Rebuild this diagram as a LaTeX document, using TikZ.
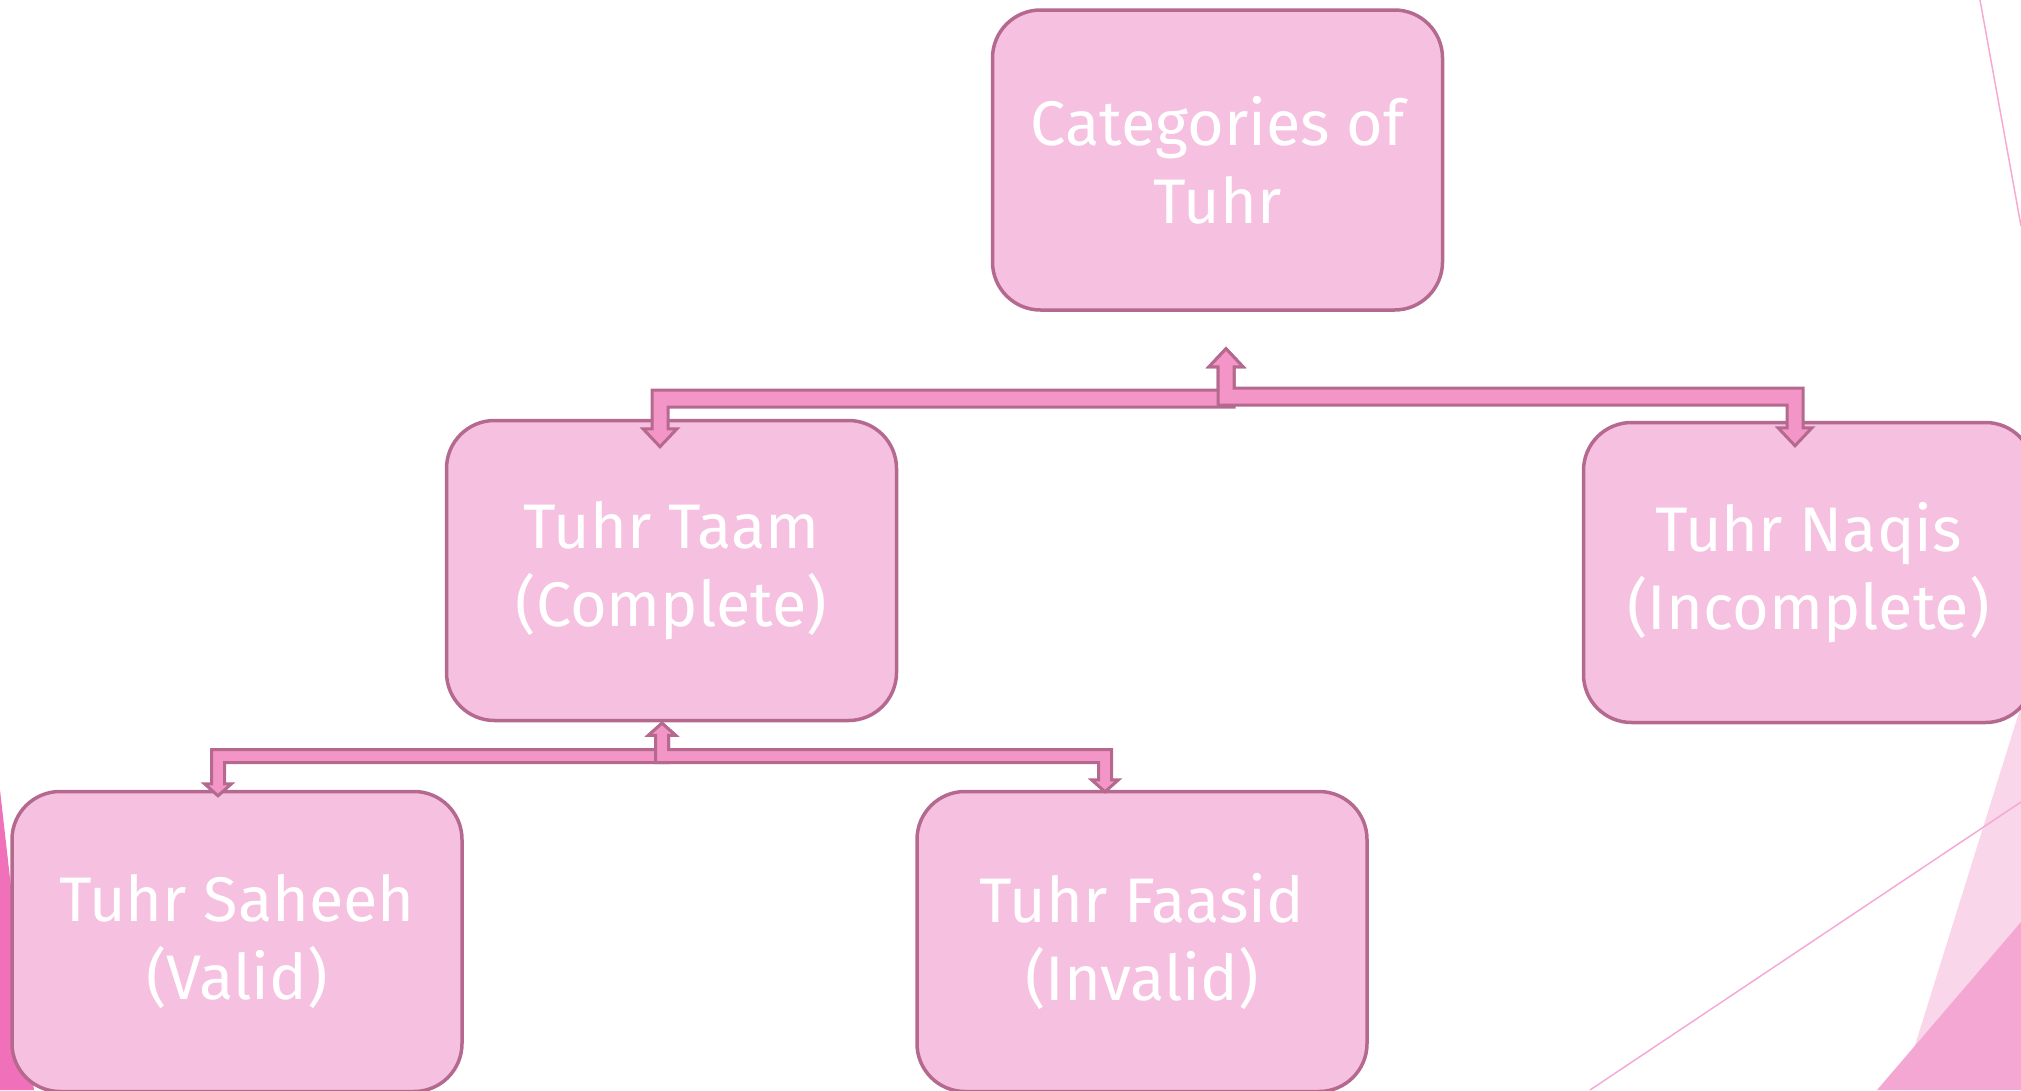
\documentclass[tikz,border=0pt]{standalone}
\usepackage{fontspec}
\setmainfont{Fira Sans}
\usetikzlibrary{calc}
\definecolor{boxfill}{HTML}{F6C0E0}
\definecolor{boxline}{HTML}{B5698F}
\definecolor{arrfill}{HTML}{F395C7}
\definecolor{bglight}{HTML}{F9D6EA}
\definecolor{bgdark}{HTML}{F4A7D3}
\definecolor{bgline}{HTML}{F5AAD4}
\definecolor{bgleft}{HTML}{F070BA}
% #1 start tip (pointing up), #2 end tip (pointing down), #3 bar coordinate, #4 signed bar half thickness
\newcommand{\elbowconn}[4]{%
  \filldraw[conn] (#1) -- ($(#1)+(\hw,\hl)$) -- ($(#1)+(\sw,\hl)$) -- ($(#1|-#3)+(\sw,#4)$)
    -- ($(#2|-#3)+(\sw,#4)$) -- ($(#2)+(\sw,-\hl)$) -- ($(#2)+(\hw,-\hl)$) -- (#2)
    -- ($(#2)+(-\hw,-\hl)$) -- ($(#2)+(-\sw,-\hl)$) -- ($(#2|-#3)+(-\sw,-#4)$)
    -- ($(#1|-#3)+(-\sw,-#4)$) -- ($(#1)+(-\sw,\hl)$) -- ($(#1)+(-\hw,\hl)$) -- cycle;}
\begin{document}
\begin{tikzpicture}[x=1pt,y=-1pt,
  catbox/.style={draw=boxline, fill=boxfill, line width=3.5pt, rounded corners=48pt,
    minimum width=450pt, minimum height=300pt, inner sep=0pt, align=center,
    text=white, font=\fontsize{63}{78}\selectfont},
  conn/.style={fill=arrfill, draw=boxline, line width=3pt, line join=miter}]
\useasboundingbox (0,0) rectangle (2021,1090);
\clip (0,0) rectangle (2021,1090);
% background decoration
\fill[bgleft] (0,790) -- (34,1090) -- (0,1090) -- cycle;
\fill[bglight] (2021,706) -- (1901,1090) -- (2021,1090) -- cycle;
\fill[bgdark] (2021,922) -- (1877,1090) -- (2021,1090) -- cycle;
\draw[bgline, line width=1.5pt] (1590,1090) -- (2021,802);
\draw[bgline, line width=1.5pt] (1980,0) -- (2021,226);
% boxes
\node[catbox] (root)    at (1217.5,160)   {Categories of\\Tuhr};
\node[catbox] (taam)    at (671.5,570.5)  {Tuhr Taam\\(Complete)};
\node[catbox] (naqis)   at (1808.5,572.5) {Tuhr Naqis\\(Incomplete)};
\node[catbox] (saheeh)  at (237,941.5)    {Tuhr Saheeh\\(Valid)};
\node[catbox] (faasid)  at (1142,941.5)   {Tuhr Faasid\\(Invalid)};
% top connectors
\coordinate (rootTip)  at ($(root.south)+(8.5,37)$);
\coordinate (taamTip)  at ($(taam.north)+(-11.5,28)$);
\coordinate (naqisTip) at ($(naqis.north)+(-13.5,25)$);
\coordinate (barA) at (0,398.5);
\coordinate (barB) at (0,396.5);
\def\sw{8}\def\hw{17}\def\hl{18}
\elbowconn{rootTip}{taamTip}{barA}{8.5}
\elbowconn{rootTip}{naqisTip}{barB}{-8.5}
% bottom connectors
\coordinate (taamUp)    at ($(taam.south)+(-9.5,1)$);
\coordinate (saheehTip) at ($(saheeh.north)+(-19,6)$);
\coordinate (faasidTip) at ($(faasid.north)+(-37,2)$);
\coordinate (barC) at (0,756);
\def\sw{6.5}\def\hw{13.5}\def\hl{12}
\elbowconn{taamUp}{saheehTip}{barC}{6.5}
\elbowconn{taamUp}{faasidTip}{barC}{-6.5}
\end{tikzpicture}
\end{document}
